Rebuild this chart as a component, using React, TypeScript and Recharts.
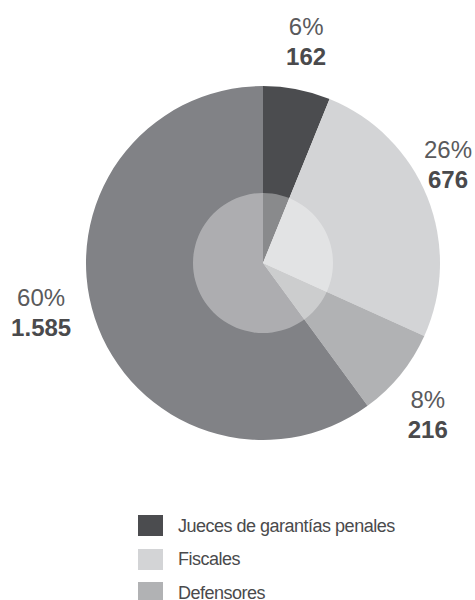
import { PieChart, Pie, Cell, Legend } from "recharts";

const categories = ["Jueces de garantías penales", "Fiscales", "Defensores", "Otros"];
const counts = [162, 676, 216, 1585];
const colors = ["#4b4c4f", "#d3d4d6", "#b1b2b4", "#818286"];
// only the first three entries of the legend are visible in the picture
const legendShown = 3;

const data = categories.map((name, i) => ({ name, value: counts[i] }));

const RADIAN = Math.PI / 180;
const CX = 263;
const CY = 263;
const OUTER = 177;
// small hand tweaks so the labels sit where the original put them
const labelNudge = [
  [0, 0],
  [0, -14],
  [-10, 10],
  [-8, -20],
];

function formatThousands(n: number): string {
  return String(n).replace(/\B(?=(\d{3})+(?!\d))/g, ".");
}

function renderLabel(props: any) {
  const { midAngle, percent, value, index } = props;
  const r = OUTER + 48;
  let x = CX + r * Math.cos(-midAngle * RADIAN);
  const y = CY + r * Math.sin(-midAngle * RADIAN);
  x = Math.min(Math.max(x, 40), 448);
  const [dx, dy] = labelNudge[index] ?? [0, 0];
  const lx = x + dx;
  const b1 = y - 7 + dy;
  return (
    <g>
      <text
        x={lx}
        y={b1}
        textAnchor="middle"
        fontFamily="'Liberation Sans', Arial, sans-serif"
        fontSize={24}
        fill="#5a5a5c"
      >
        {Math.round(percent * 100)}%
      </text>
      <text
        x={lx}
        y={b1 + 30}
        textAnchor="middle"
        fontFamily="'Liberation Sans', Arial, sans-serif"
        fontSize={24}
        fontWeight="bold"
        fill="#4a4a4c"
      >
        {formatThousands(value)}
      </text>
    </g>
  );
}

function renderLegend() {
  return (
    <div style={{ fontFamily: "'Liberation Sans', Arial, sans-serif" }}>
      {categories.slice(0, legendShown).map((name, i) => (
        <div
          key={name}
          style={{ display: "flex", alignItems: "center", height: 21, marginBottom: 12.5 }}
        >
          <div style={{ width: 25, height: 21, background: colors[i] }} />
          <span
            style={{
              marginLeft: 15,
              fontSize: 18,
              lineHeight: "21px",
              letterSpacing: -0.5,
              color: "#4a4a4c",
              paddingTop: 1,
            }}
          >
            {name}
          </span>
        </div>
      ))}
    </div>
  );
}

export default function App() {
  return (
    <div style={{ position: "absolute", left: 0, top: 0, background: "#fff" }}>
      <PieChart width={475} height={600} margin={{ top: 0, right: 0, bottom: 0, left: 0 }}>
        <Pie
          data={data}
          dataKey="value"
          nameKey="name"
          cx={CX}
          cy={CY}
          outerRadius={OUTER}
          startAngle={90}
          endAngle={-270}
          stroke="none"
          label={renderLabel}
          labelLine={false}
          isAnimationActive={false}
        >
          {data.map((d, i) => (
            <Cell key={d.name} fill={colors[i]} />
          ))}
        </Pie>
        <Pie
          data={[{ name: "overlay", value: 1 }]}
          dataKey="value"
          cx={CX}
          cy={CY}
          outerRadius={70}
          fill="#ffffff"
          fillOpacity={0.35}
          stroke="none"
          isAnimationActive={false}
          legendType="none"
        />
        <Legend
          content={renderLegend}
          wrapperStyle={{ position: "absolute", left: 138, top: 515, width: 300, bottom: "auto" }}
        />
      </PieChart>
    </div>
  );
}
